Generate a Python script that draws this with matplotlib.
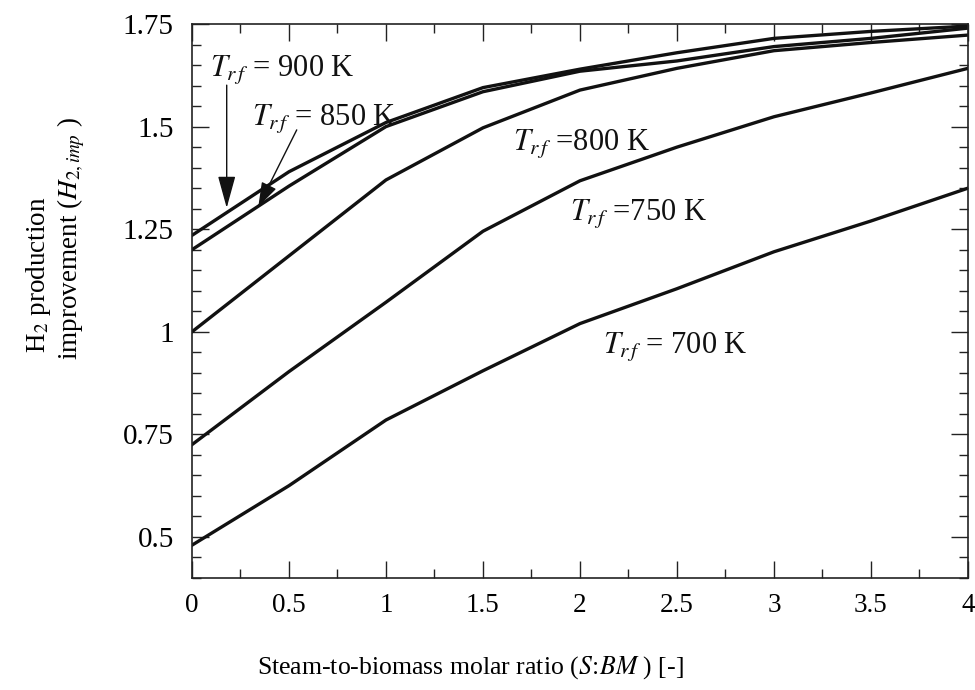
import matplotlib
matplotlib.use("Agg")
import matplotlib.pyplot as plt
from matplotlib.ticker import MultipleLocator

plt.rcParams["font.family"] = ["Liberation Serif", "DejaVu Serif"]
plt.rcParams["mathtext.fontset"] = "stix"

# steam-to-biomass molar ratio and H2 production improvement per reformer temperature
sbm = [0, 0.5, 1, 1.5, 2, 2.5, 3, 3.5, 4]
h2_700 = [0.48, 0.625, 0.785, 0.905, 1.02, 1.105, 1.195, 1.27, 1.35]
h2_750 = [0.725, 0.903, 1.072, 1.245, 1.368, 1.45, 1.524, 1.582, 1.642]
h2_800 = [1.0, 1.185, 1.37, 1.497, 1.589, 1.642, 1.685, 1.705, 1.723]
h2_850 = [1.20, 1.355, 1.50, 1.585, 1.635, 1.66, 1.695, 1.715, 1.74]
h2_900 = [1.235, 1.39, 1.51, 1.595, 1.64, 1.68, 1.715, 1.732, 1.745]

fig = plt.figure(figsize=(9.75, 6.9), dpi=100)
ax = fig.add_axes([0.1969, 0.1623, 0.7959, 0.8029])

for ys in (h2_700, h2_750, h2_800, h2_850, h2_900):
    ax.plot(sbm, ys, color="#111111", lw=2.4, solid_joinstyle="miter")

ax.set_xlim(0, 4)
ax.set_ylim(0.40, 1.75)
ax.xaxis.set_minor_locator(MultipleLocator(0.25))
ax.yaxis.set_minor_locator(MultipleLocator(0.05))
ax.set_xticks([0, 0.5, 1, 1.5, 2, 2.5, 3, 3.5, 4])
ax.set_xticklabels(["0", "0.5", "1", "1.5", "2", "2.5", "3", "3.5", "4"])
ax.set_yticks([0.5, 0.75, 1, 1.25, 1.5, 1.75])
ax.set_yticklabels(["0.5", "0.75", "1", "1.25", "1.5", "1.75"])
ax.tick_params(which="both", direction="in", top=True, right=True,
               width=1.0, color="#222222")
ax.tick_params(which="major", length=12.5)
ax.tick_params(which="minor", length=6.5)
ax.tick_params(axis="x", which="major", labelsize=19.5, pad=11)
ax.tick_params(axis="y", which="major", labelsize=21, pad=13)
for s in ax.spines.values():
    s.set_linewidth(1.2)
    s.set_color("#222222")

lab = dict(fontsize=22, color="#111111")
ax.text(0.093, 1.638, r"$T_{r\,f}$ = 900 K", va="center", ha="left", **lab)
ax.text(0.309, 1.52, r"$T_{r\,f}$ = 850 K", va="center", ha="left", **lab)
ax.text(1.655, 1.46, r"$T_{r\,f}$ =800 K", va="center", ha="left", **lab)
ax.text(1.948, 1.289, r"$T_{r\,f}$ =750 K", va="center", ha="left", **lab)
ax.text(2.119, 0.965, r"$T_{r\,f}$ = 700 K", va="center", ha="left", **lab)

ax.annotate("", xy=(0.179, 1.302), xytext=(0.179, 1.601),
            arrowprops=dict(arrowstyle="-|>,head_length=0.8,head_width=0.22",
                            mutation_scale=25, lw=1.0, color="#111111",
                            shrinkA=0, shrinkB=0))
ax.annotate("", xy=(0.342, 1.305), xytext=(0.54, 1.492),
            arrowprops=dict(arrowstyle="-|>,head_length=0.6,head_width=0.2",
                            mutation_scale=25, lw=1.0, color="#111111",
                            shrinkA=0, shrinkB=0))

# two-line y label, lines aligned at their lower end
fig.text(0.039, 1 - 353 / 690, r"H$_2$ production", rotation=90,
         ha="center", va="bottom", fontsize=19.5)
fig.text(0.073, 1 - 360 / 690, r"improvement ($H_{2,imp}$ )", rotation=90,
         ha="center", va="bottom", fontsize=19.5)
fig.text(470 / 975, 1 - 668 / 690, r"Steam-to-biomass molar ratio ($S\!:\!BM$ ) [-]",
         ha="center", va="center", fontsize=18.5)

fig.savefig("out.png", dpi=100, facecolor="white")
